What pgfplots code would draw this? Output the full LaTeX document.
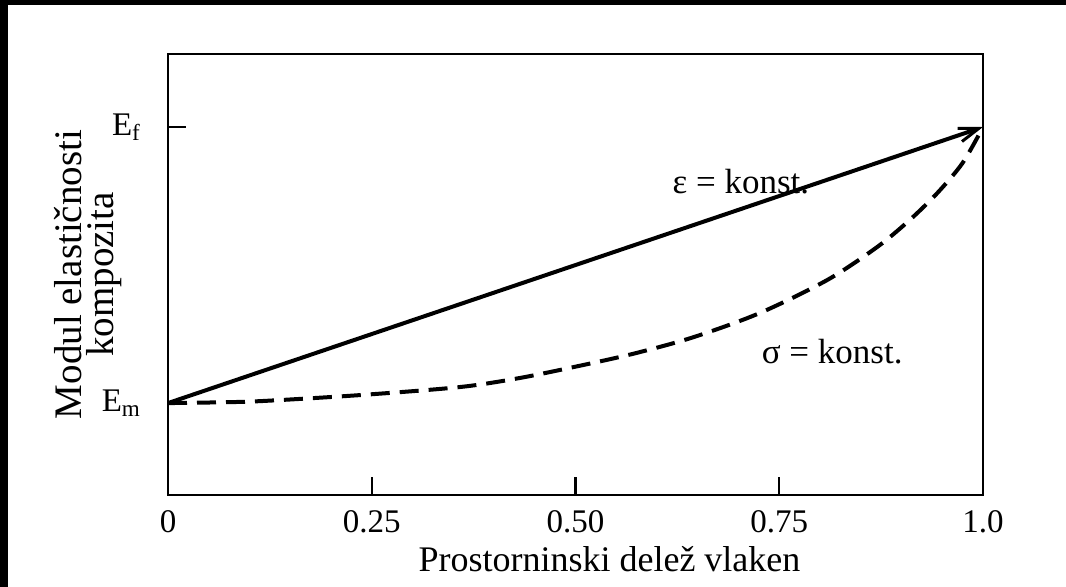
\documentclass[border=0pt]{standalone}
\usepackage{pgfplots}
\pgfplotsset{compat=1.18}
\usepackage{fontspec}
\setmainfont{Liberation Serif}
\usetikzlibrary{arrows.meta}
\begin{document}
\begin{tikzpicture}
\fill[white] (0,0) rectangle (533pt,-293.5pt);
\fill[black] (0,0) rectangle (4pt,-293.5pt);
\fill[black] (0,0) rectangle (533pt,-2.5pt);
\useasboundingbox (0,0) rectangle (533pt,-293.5pt);
\begin{axis}[
  at={(84pt,-247.5pt)}, anchor=south west,
  scale only axis, width=407.5pt, height=220.5pt,
  xmin=0, xmax=1, ymin=-0.333, ymax=1.2645,
  axis line style={line width=1.3pt},
  xtick={0,0.25,0.5,0.75,1}, xticklabels={0,0.25,0.50,0.75,1.0},
  ytick={0,1}, yticklabels={E\textsubscript{m},E\textsubscript{f}},
  xtick pos=bottom, ytick pos=left, tick align=inside, major tick length=9pt,
  tick style={line width=1.2pt, black},
  tick label style={font=\fontsize{16.5}{19}\selectfont},
  xticklabel style={yshift=-4pt},
  yticklabel style={xshift=-10pt},
  xlabel={Prostorninski delež vlaken},
  xlabel style={font=\fontsize{18}{20}\selectfont, xshift=17pt, yshift=0pt},
  ylabel={Modul elastičnosti\\kompozita},
  ylabel style={font=\fontsize{19.5}{16}\selectfont, align=center, yshift=-17pt},
  clip=false,
]
\addplot[black, line width=2pt, -{Straight Barb[length=10pt,width=7pt,line width=1.5pt]}] coordinates {(0,0) (1,1)};
\addplot[black, line width=2pt, dash pattern=on 9.5pt off 5pt, smooth, tension=0.5] coordinates {
(0,0) (0.05,0.002) (0.113,0.007) (0.236,0.029) (0.358,0.058) (0.43,0.09) (0.497,0.130) (0.57,0.178) (0.644,0.238) (0.726,0.326) (0.809,0.446) (0.870,0.565) (0.910,0.663) (0.944,0.761) (0.975,0.87) (1,1)};
\node[font=\fontsize{17.5}{20}\selectfont] at (axis cs:0.703,0.804) {ε = konst.};
\node[font=\fontsize{17.5}{20}\selectfont] at (axis cs:0.815,0.185) {σ = konst.};
\end{axis}
\end{tikzpicture}
\end{document}
